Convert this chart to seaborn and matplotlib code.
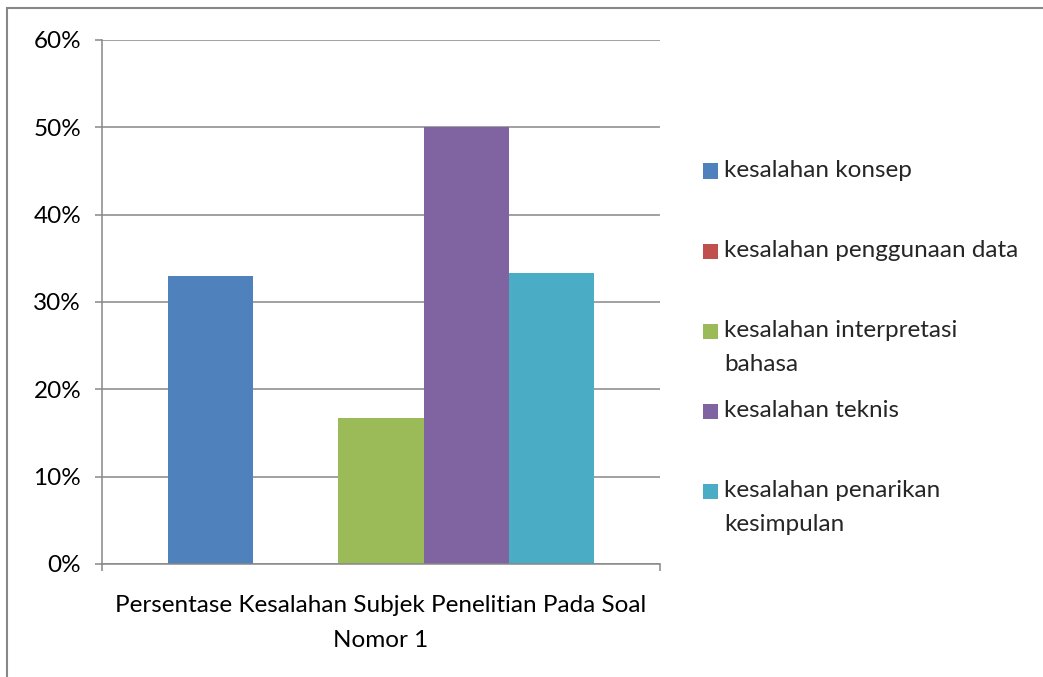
import matplotlib
matplotlib.use("Agg")
import matplotlib.pyplot as plt
import seaborn as sns
import pandas as pd
from matplotlib.patches import Rectangle
from matplotlib.legend_handler import HandlerPatch
from matplotlib.ticker import FuncFormatter, FixedLocator

# ---- data ----
category = "Persentase Kesalahan Subjek Penelitian Pada Soal Nomor 1"
category_label = "Persentase Kesalahan Subjek Penelitian Pada Soal\nNomor 1"
error_types = [
    "kesalahan konsep",
    "kesalahan penggunaan data",
    "kesalahan interpretasi bahasa",
    "kesalahan teknis",
    "kesalahan penarikan kesimpulan",
]
legend_labels = [
    "kesalahan konsep\n",
    "kesalahan penggunaan data\n",
    "kesalahan interpretasi\nbahasa",
    "kesalahan teknis\n",
    "kesalahan penarikan\nkesimpulan",
]
values = [0.33, 0.0, 0.167, 0.50, 0.333]
colors = ["#4F81BD", "#C0504D", "#9BBB59", "#8064A2", "#4BACC6"]
yticks = [0, 0.1, 0.2, 0.3, 0.4, 0.5, 0.6]

df = pd.DataFrame({"category": [category] * len(values),
                   "type": error_types,
                   "value": values})

sns.set_theme(style="white")
plt.rcParams["font.family"] = ["Lato", "DejaVu Sans"]
FS = 17.5
LS = 1.75
GRAY = "#878787"

fig = plt.figure(figsize=(10.43, 6.77), dpi=100)
W, H = 1043, 677
ax = fig.add_axes([102 / W, 1 - 564 / H, (660 - 102) / W, (564 - 40) / H])

sns.barplot(data=df, x="category", y="value", hue="type", hue_order=error_types,
            palette=colors, saturation=1, width=0.763, ax=ax, legend=False,
            errorbar=None, linewidth=0, edgecolor="none")

ax.set_xlim(-0.5, 0.5)
ax.set_ylim(0, 0.6)
ax.set_yticks(yticks)
ax.yaxis.set_major_formatter(FuncFormatter(lambda v, p: f"{v*100:.0f}%"))
ax.yaxis.grid(True, color=GRAY, linewidth=1.1)
ax.set_axisbelow(True)
ax.set_xlabel("")
ax.set_ylabel("")
ax.set_xticks([0])
ax.set_xticklabels([category_label], fontsize=FS)
ax.xaxis.set_minor_locator(FixedLocator([-0.5, 0.5]))
ax.tick_params(axis="x", which="major", length=0, pad=22, labelcolor="black")
ax.tick_params(axis="x", which="minor", length=5, width=1.1, color=GRAY, direction="out", bottom=True)
ax.tick_params(axis="y", which="major", length=5, width=1.1, color=GRAY, direction="out",
               left=True, pad=10, labelsize=FS, labelcolor="black")
for s in ["top", "right"]:
    ax.spines[s].set_visible(False)
for s in ["left", "bottom"]:
    ax.spines[s].set_color(GRAY)
    ax.spines[s].set_linewidth(1.1)

# legend
handles = [Rectangle((0, 0), 1, 1, facecolor=c, edgecolor="none") for c in colors]


def make_patch(legend, orig_handle, xdescent, ydescent, width, height, fontsize):
    return Rectangle((-xdescent, -ydescent + 11.5), width, height)


leg = fig.legend(handles, legend_labels, loc="upper left",
                 bbox_to_anchor=(703 / W, 1 - 160 / H), frameon=False,
                 fontsize=FS, handlelength=0.62, handleheight=0.62,
                 handletextpad=0.25, labelspacing=1.04, borderaxespad=0,
                 borderpad=0,
                 handler_map={Rectangle: HandlerPatch(patch_func=make_patch)})
for t in leg.get_texts():
    t.set_linespacing(LS)

fig.canvas.draw()
for lab in ax.get_xticklabels():
    lab.set_linespacing(1.85)

# outer chart border
fig.patches.append(Rectangle((7 / W, -0.1), 1.2, 1 - 8 / H + 0.1, transform=fig.transFigure,
                             fill=False, edgecolor=GRAY, linewidth=1.5))

fig.savefig("out.png", dpi=100)
